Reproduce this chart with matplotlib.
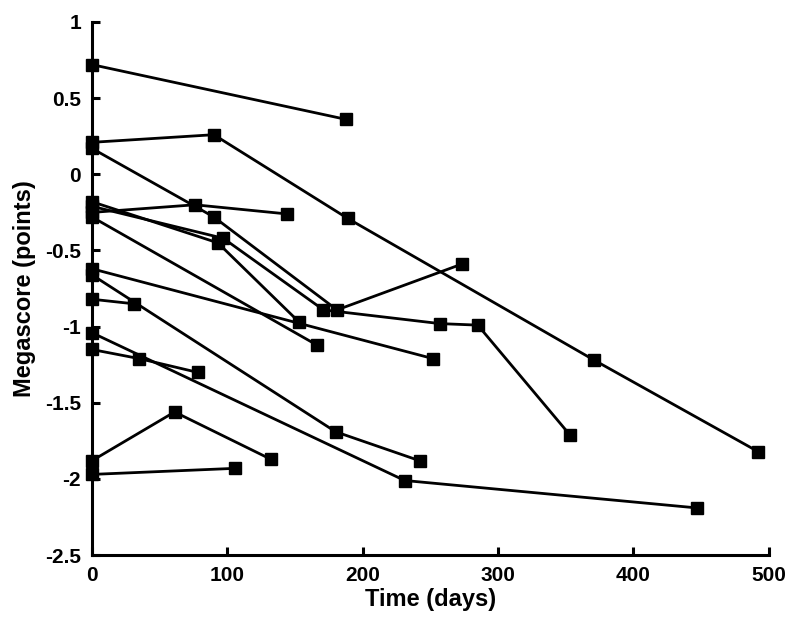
import matplotlib
matplotlib.use("Agg")
import matplotlib.pyplot as plt

# --------------------------- DATA --------------------------- #
# each patient: time points (days) and megascore (points)
days_1 = [0, 188]
score_1 = [0.72, 0.36]

days_2 = [0, 90, 189, 371, 492]
score_2 = [0.21, 0.26, -0.29, -1.22, -1.82]

days_3 = [0, 90, 181, 273]
score_3 = [0.17, -0.28, -0.89, -0.59]

days_4 = [0, 76, 144]
score_4 = [-0.25, -0.20, -0.26]

days_5 = [0, 93, 153]
score_5 = [-0.18, -0.45, -0.97]

days_6 = [0, 97, 171, 257, 285, 353]
score_6 = [-0.21, -0.42, -0.89, -0.98, -0.99, -1.71]

days_7 = [0, 166]
score_7 = [-0.28, -1.12]

days_8 = [0, 252]
score_8 = [-0.62, -1.21]

days_9 = [0, 180, 242]
score_9 = [-0.66, -1.69, -1.88]

days_10 = [0, 31]
score_10 = [-0.82, -0.85]

days_11 = [0, 231, 447]
score_11 = [-1.04, -2.01, -2.19]

days_12 = [0, 35, 78]
score_12 = [-1.15, -1.21, -1.30]

days_13 = [0, 61, 132]
score_13 = [-1.88, -1.56, -1.87]

days_14 = [0, 106]
score_14 = [-1.97, -1.93]

SERIES = [
    (days_1, score_1), (days_2, score_2), (days_3, score_3), (days_4, score_4),
    (days_5, score_5), (days_6, score_6), (days_7, score_7), (days_8, score_8),
    (days_9, score_9), (days_10, score_10), (days_11, score_11),
    (days_12, score_12), (days_13, score_13), (days_14, score_14),
]

X_TICKS = [0, 100, 200, 300, 400, 500]
Y_TICKS = [-2.5, -2, -1.5, -1, -0.5, 0, 0.5, 1]
Y_TICKLABELS = ["-2.5", "-2", "-1.5", "-1", "-0.5", "0", "0.5", "1"]
# ------------------------------------------------------------ #

plt.rcParams["font.family"] = ["Liberation Sans", "DejaVu Sans"]
plt.rcParams["axes.unicode_minus"] = False

fig = plt.figure(figsize=(8.0, 6.28), dpi=100)
ax = fig.add_axes([0.115, 0.116, 0.846, 0.849])

for d, s in SERIES:
    ax.plot(d, s, color="black", linewidth=2.0, marker="s", markersize=8.5,
            markerfacecolor="black", markeredgecolor="black", clip_on=False,
            zorder=3)

ax.set_xlim(0, 500)
ax.set_ylim(-2.5, 1)
ax.set_xticks(X_TICKS)
ax.set_xticklabels([str(t) for t in X_TICKS])
ax.set_yticks(Y_TICKS)
ax.set_yticklabels(Y_TICKLABELS)

for side in ("top", "right"):
    ax.spines[side].set_visible(False)
for side in ("left", "bottom"):
    ax.spines[side].set_linewidth(2.2)

ax.tick_params(direction="in", length=6, width=2.2, labelsize=15, pad=8)
for lab in ax.get_xticklabels() + ax.get_yticklabels():
    lab.set_fontweight("bold")

ax.set_xlabel("Time (days)", fontsize=17, fontweight="bold", labelpad=2)
ax.set_ylabel("Megascore (points)", fontsize=17, fontweight="bold", labelpad=6)

fig.savefig("out.png", dpi=100)
